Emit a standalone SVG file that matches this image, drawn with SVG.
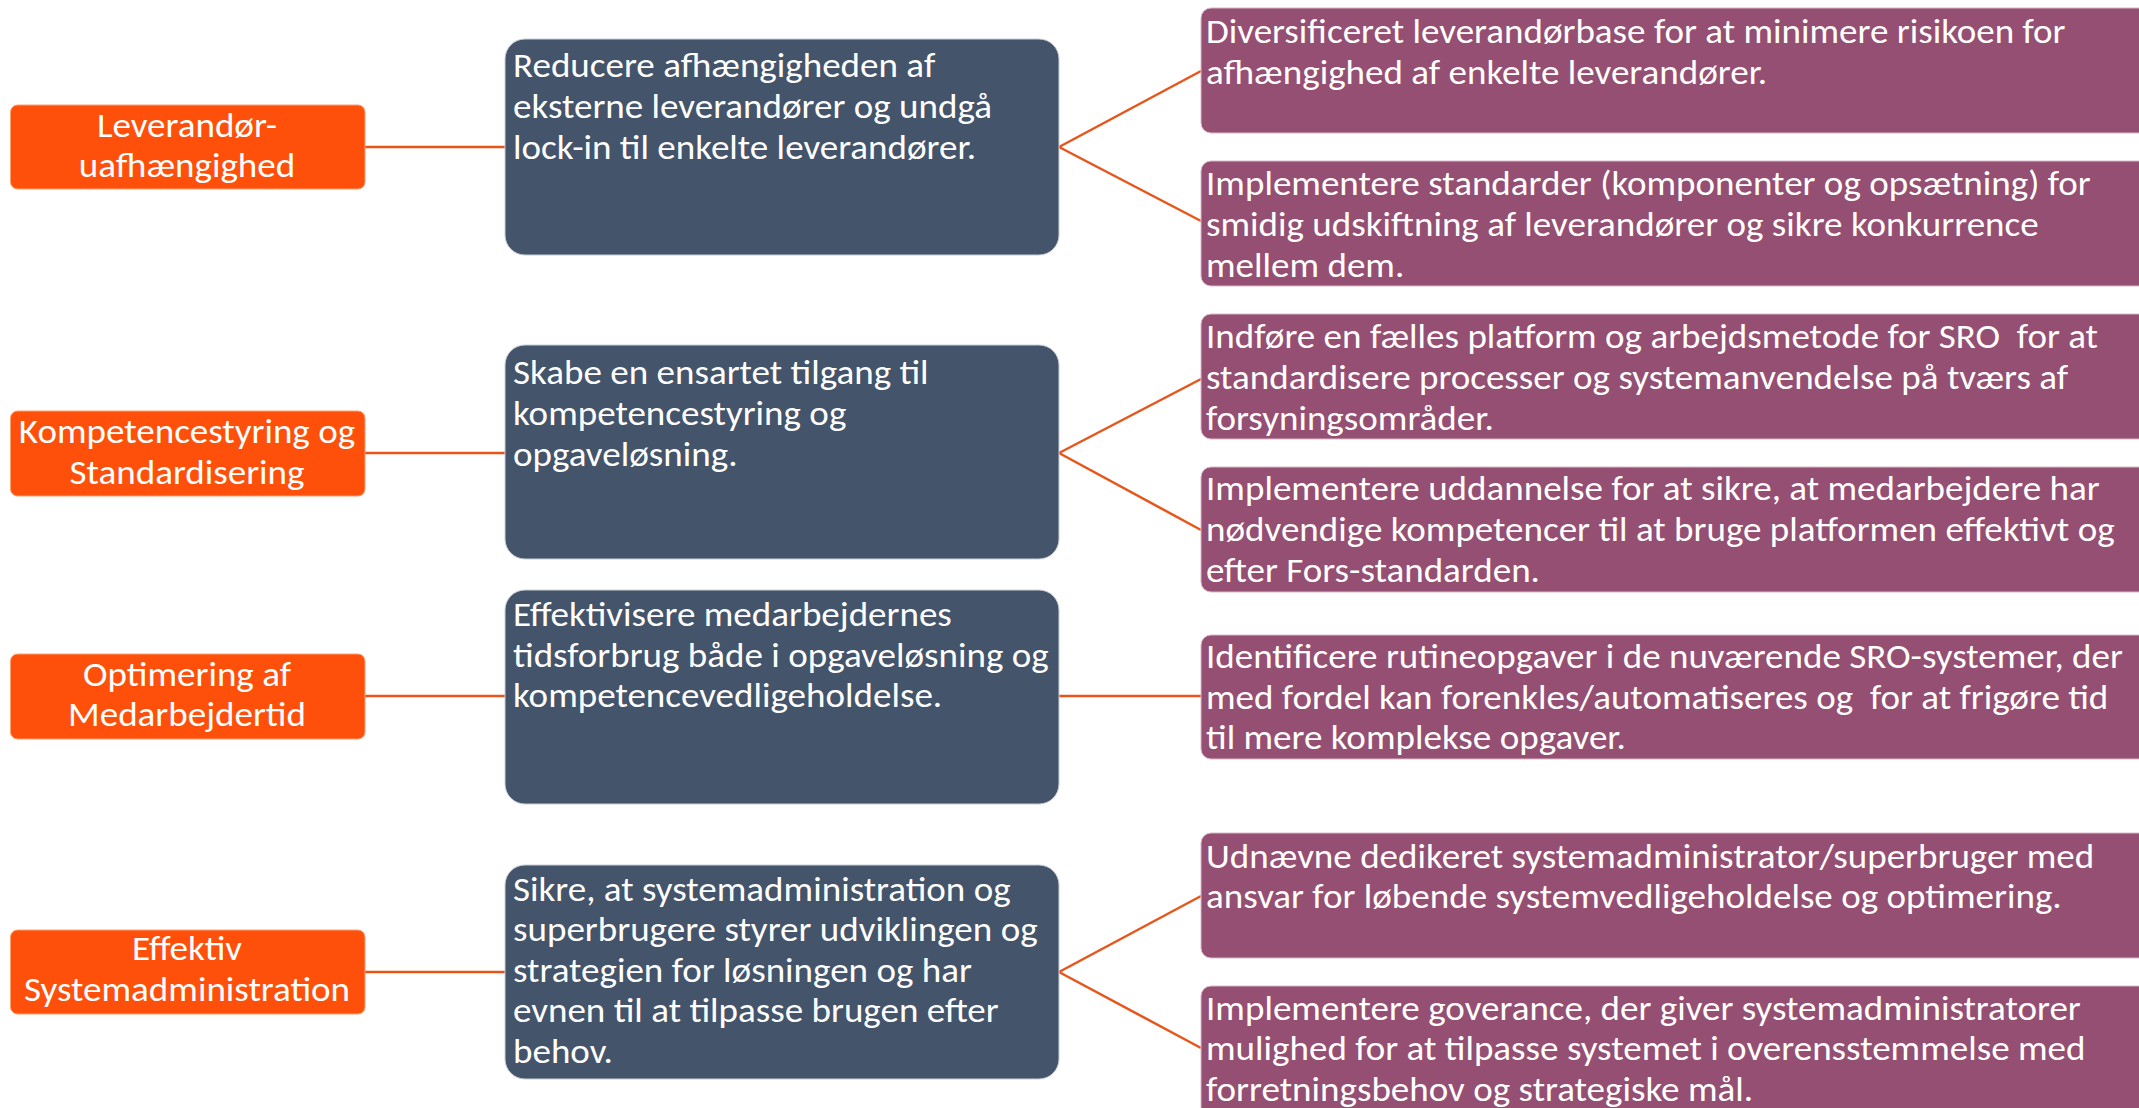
<svg xmlns="http://www.w3.org/2000/svg" width="2139" height="1108" viewBox="0 0 2139 1108">
<style>
text{font-family:Carlito,"Liberation Sans Narrow","Liberation Sans",sans-serif;font-size:34px;fill:#ffffff}
.o{fill:#FE500A;stroke:#FFA070;stroke-width:1}
.d{fill:#44546A;stroke:#C9CED6;stroke-width:1}
.p{fill:#954F72;stroke:#D9B9C9;stroke-width:1}
.c{text-anchor:middle}
.con line{stroke:#E8551A;stroke-width:2.5}
</style>
<rect width="2139" height="1108" fill="#ffffff"/>
<g class="con" id="connectors">
<line x1="365" y1="147" x2="505" y2="147"/>
<line x1="365" y1="453" x2="505" y2="453"/>
<line x1="365" y1="696" x2="505" y2="696"/>
<line x1="365" y1="972" x2="505" y2="972"/>
<line x1="1059" y1="147" x2="1201" y2="71"/>
<line x1="1059" y1="147" x2="1201" y2="221"/>
<line x1="1059" y1="453" x2="1201" y2="379"/>
<line x1="1059" y1="453" x2="1201" y2="530"/>
<line x1="1059" y1="696" x2="1201" y2="696"/>
<line x1="1059" y1="972" x2="1201" y2="896"/>
<line x1="1059" y1="972" x2="1201" y2="1048"/>
</g>
<g id="o1"><rect class="o" x="10.5" y="105" width="354.5" height="84" rx="7"/><g transform="translate(187 0) scale(1.09 1)"><text class="c" x="0" y="137">Leverandør-</text><text class="c" x="0" y="177">uafhængighed</text></g></g>
<g id="o2"><rect class="o" x="10.5" y="411" width="354.5" height="85" rx="7"/><g transform="translate(187 0) scale(1.09 1)"><text class="c" x="0" y="443">Kompetencestyring og</text><text class="c" x="0" y="484">Standardisering</text></g></g>
<g id="o3"><rect class="o" x="10.5" y="654" width="354.5" height="85" rx="7"/><g transform="translate(187 0) scale(1.09 1)"><text class="c" x="0" y="686">Optimering af</text><text class="c" x="0" y="726">Medarbejdertid</text></g></g>
<g id="o4"><rect class="o" x="10.5" y="930" width="354.5" height="84" rx="7"/><g transform="translate(187 0) scale(1.09 1)"><text class="c" x="0" y="960">Effektiv</text><text class="c" x="0" y="1001">Systemadministration</text></g></g>
<g id="d1"><rect class="d" x="505" y="39" width="554" height="216" rx="20"/><g transform="translate(513 0) scale(1.09 1)"><text x="0" y="77">Reducere afhængigheden af</text><text x="0" y="118">eksterne leverandører og undgå</text><text x="0" y="159">lock-in til enkelte leverandører.</text></g></g>
<g id="d2"><rect class="d" x="505" y="345" width="554" height="214" rx="20"/><g transform="translate(513 0) scale(1.09 1)"><text x="0" y="384">Skabe en ensartet tilgang til</text><text x="0" y="425">kompetencestyring og</text><text x="0" y="466">opgaveløsning.</text></g></g>
<g id="d3"><rect class="d" x="505" y="590" width="554" height="214" rx="20"/><g transform="translate(513 0) scale(1.09 1)"><text x="0" y="626">Effektivisere medarbejdernes</text><text x="0" y="667">tidsforbrug både i opgaveløsning og</text><text x="0" y="707">kompetencevedligeholdelse.</text></g></g>
<g id="d4"><rect class="d" x="505" y="865" width="554" height="214" rx="20"/><g transform="translate(513 0) scale(1.09 1)"><text x="0" y="901">Sikre, at systemadministration og</text><text x="0" y="941">superbrugere styrer udviklingen og</text><text x="0" y="982">strategien for løsningen og har</text><text x="0" y="1022">evnen til at tilpasse brugen efter</text><text x="0" y="1063">behov.</text></g></g>
<g id="p1"><rect class="p" x="1201" y="8" width="960" height="125" rx="10"/><g transform="translate(1206 0) scale(1.09 1)"><text x="0" y="43">Diversificeret leverandørbase for at minimere risikoen for</text><text x="0" y="84">afhængighed af enkelte leverandører.</text></g></g>
<g id="p2"><rect class="p" x="1201" y="161" width="960" height="125" rx="10"/><g transform="translate(1206 0) scale(1.09 1)"><text x="0" y="195">Implementere standarder (komponenter og opsætning) for</text><text x="0" y="236">smidig udskiftning af leverandører og sikre konkurrence</text><text x="0" y="277">mellem dem.</text></g></g>
<g id="p3"><rect class="p" x="1201" y="314" width="960" height="125" rx="10"/><g transform="translate(1206 0) scale(1.09 1)"><text x="0" y="348" xml:space="preserve">Indføre en fælles platform og arbejdsmetode for SRO  for at</text><text x="0" y="389">standardisere processer og systemanvendelse på tværs af</text><text x="0" y="430">forsyningsområder.</text></g></g>
<g id="p4"><rect class="p" x="1201" y="467" width="960" height="125" rx="10"/><g transform="translate(1206 0) scale(1.09 1)"><text x="0" y="500">Implementere uddannelse for at sikre, at medarbejdere har</text><text x="0" y="541">nødvendige kompetencer til at bruge platformen effektivt og</text><text x="0" y="582">efter Fors-standarden.</text></g></g>
<g id="p5"><rect class="p" x="1201" y="635" width="960" height="124" rx="10"/><g transform="translate(1206 0) scale(1.09 1)"><text x="0" y="668">Identificere rutineopgaver i de nuværende SRO-systemer, der</text><text x="0" y="709" xml:space="preserve">med fordel kan forenkles/automatiseres og  for at frigøre tid</text><text x="0" y="749">til mere komplekse opgaver.</text></g></g>
<g id="p6"><rect class="p" x="1201" y="833" width="960" height="125" rx="10"/><g transform="translate(1206 0) scale(1.09 1)"><text x="0" y="868">Udnævne dedikeret systemadministrator/superbruger med</text><text x="0" y="908">ansvar for løbende systemvedligeholdelse og optimering.</text></g></g>
<g id="p7"><rect class="p" x="1201" y="986" width="960" height="140" rx="10"/><g transform="translate(1206 0) scale(1.09 1)"><text x="0" y="1020">Implementere goverance, der giver systemadministratorer</text><text x="0" y="1060">mulighed for at tilpasse systemet i overensstemmelse med</text><text x="0" y="1101">forretningsbehov og strategiske mål.</text></g></g>
</svg>
